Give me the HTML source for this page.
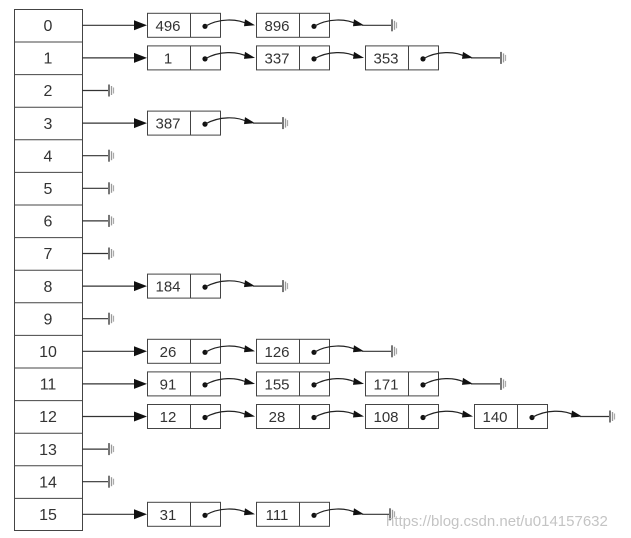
<!DOCTYPE html>
<html><head><meta charset="utf-8"><style>
html,body{margin:0;padding:0;background:#fff;}
svg{display:block;}
text{font-family:"Liberation Sans",Arial,sans-serif;fill:#333;}
</style></head><body>
<svg width="631" height="538" viewBox="0 0 631 538" xmlns="http://www.w3.org/2000/svg">
<defs>
<g id="node">
<rect x="0.5" y="-12" width="73" height="24" fill="#fff" stroke="#444" stroke-width="1"/>
<line x1="43.5" y1="-12" x2="43.5" y2="12" stroke="#444"/>
<circle cx="58" cy="1" r="2.6" fill="#111"/>
<path d="M58 1 C 72 -7, 90 -7, 101 -1" fill="none" stroke="#222" stroke-width="1.2"/>
<polygon points="98,-6 108,0 97,1" fill="#111"/>
</g>
<g id="gnd">
<line x1="0" y1="-6" x2="0" y2="6" stroke="#777" stroke-width="2"/>
<line x1="2.5" y1="-4.5" x2="2.5" y2="4.5" stroke="#999" stroke-width="1.3"/>
<line x1="4.5" y1="-3" x2="4.5" y2="3" stroke="#aaa" stroke-width="1.2"/>
</g>
<g id="ent">
<line x1="82" y1="0" x2="138" y2="0" stroke="#333" stroke-width="1.2"/>
<polygon points="134,-5 147,0 134,5" fill="#111"/>
</g>
<g id="empty">
<line x1="82" y1="0" x2="108" y2="0" stroke="#333" stroke-width="1.2"/>
<use href="#gnd" x="109"/>
</g>
</defs>

<g stroke="#444" stroke-width="1" fill="none">
<rect x="14.5" y="9.5" width="68" height="521"/>
</g>
<g stroke="#444" stroke-width="1">
<line x1="14" y1="42" x2="82" y2="42"/><line x1="14" y1="74.6" x2="82" y2="74.6"/>
<line x1="14" y1="107.2" x2="82" y2="107.2"/><line x1="14" y1="139.8" x2="82" y2="139.8"/>
<line x1="14" y1="172.4" x2="82" y2="172.4"/><line x1="14" y1="205" x2="82" y2="205"/>
<line x1="14" y1="237.6" x2="82" y2="237.6"/><line x1="14" y1="270.2" x2="82" y2="270.2"/>
<line x1="14" y1="302.8" x2="82" y2="302.8"/><line x1="14" y1="335.4" x2="82" y2="335.4"/>
<line x1="14" y1="368" x2="82" y2="368"/><line x1="14" y1="400.6" x2="82" y2="400.6"/>
<line x1="14" y1="433.2" x2="82" y2="433.2"/><line x1="14" y1="465.8" x2="82" y2="465.8"/>
<line x1="14" y1="498.4" x2="82" y2="498.4"/>
</g>
<g font-size="16" text-anchor="middle">
<text x="48" y="31">0</text><text x="48" y="63.6">1</text><text x="48" y="96.2">2</text>
<text x="48" y="128.8">3</text><text x="48" y="161.4">4</text><text x="48" y="194">5</text>
<text x="48" y="226.6">6</text><text x="48" y="259.2">7</text><text x="48" y="291.8">8</text>
<text x="48" y="324.4">9</text><text x="48" y="357">10</text><text x="48" y="389.6">11</text>
<text x="48" y="422.2">12</text><text x="48" y="454.8">13</text><text x="48" y="487.4">14</text>
<text x="48" y="520">15</text>
</g>

<g font-size="15" text-anchor="middle">
<g transform="translate(0,25.3)">
<use href="#ent"/><use href="#node" x="147"/><use href="#node" x="256"/>
<line x1="362" y1="0" x2="391" y2="0" stroke="#333" stroke-width="1.2"/><use href="#gnd" x="392"/>
<text x="168" y="5.5">496</text><text x="277" y="5.5">896</text>
</g>
<g transform="translate(0,57.9)">
<use href="#ent"/><use href="#node" x="147"/><use href="#node" x="256"/><use href="#node" x="365"/>
<line x1="471" y1="0" x2="500" y2="0" stroke="#333" stroke-width="1.2"/><use href="#gnd" x="501"/>
<text x="168" y="5.5">1</text><text x="277" y="5.5">337</text><text x="386" y="5.5">353</text>
</g>
<g transform="translate(0,90.5)"><use href="#empty"/></g>
<g transform="translate(0,123.1)">
<use href="#ent"/><use href="#node" x="147"/>
<line x1="253" y1="0" x2="282" y2="0" stroke="#333" stroke-width="1.2"/><use href="#gnd" x="283"/>
<text x="168" y="5.5">387</text>
</g>
<g transform="translate(0,155.7)"><use href="#empty"/></g>
<g transform="translate(0,188.3)"><use href="#empty"/></g>
<g transform="translate(0,220.9)"><use href="#empty"/></g>
<g transform="translate(0,253.5)"><use href="#empty"/></g>
<g transform="translate(0,286.1)">
<use href="#ent"/><use href="#node" x="147"/>
<line x1="253" y1="0" x2="282" y2="0" stroke="#333" stroke-width="1.2"/><use href="#gnd" x="283"/>
<text x="168" y="5.5">184</text>
</g>
<g transform="translate(0,318.7)"><use href="#empty"/></g>
<g transform="translate(0,351.3)">
<use href="#ent"/><use href="#node" x="147"/><use href="#node" x="256"/>
<line x1="362" y1="0" x2="391" y2="0" stroke="#333" stroke-width="1.2"/><use href="#gnd" x="392"/>
<text x="168" y="5.5">26</text><text x="277" y="5.5">126</text>
</g>
<g transform="translate(0,383.9)">
<use href="#ent"/><use href="#node" x="147"/><use href="#node" x="256"/><use href="#node" x="365"/>
<line x1="471" y1="0" x2="500" y2="0" stroke="#333" stroke-width="1.2"/><use href="#gnd" x="501"/>
<text x="168" y="5.5">91</text><text x="277" y="5.5">155</text><text x="386" y="5.5">171</text>
</g>
<g transform="translate(0,416.5)">
<use href="#ent"/><use href="#node" x="147"/><use href="#node" x="256"/><use href="#node" x="365"/><use href="#node" x="474"/>
<line x1="580" y1="0" x2="609" y2="0" stroke="#333" stroke-width="1.2"/><use href="#gnd" x="610"/>
<text x="168" y="5.5">12</text><text x="277" y="5.5">28</text><text x="386" y="5.5">108</text><text x="495" y="5.5">140</text>
</g>
<g transform="translate(0,449.1)"><use href="#empty"/></g>
<g transform="translate(0,481.7)"><use href="#empty"/></g>
<g transform="translate(0,514.3)">
<use href="#ent"/><use href="#node" x="147"/><use href="#node" x="256"/>
<line x1="362" y1="0" x2="389" y2="0" stroke="#333" stroke-width="1.2"/><use href="#gnd" x="390"/>
<text x="168" y="5.5">31</text><text x="277" y="5.5">111</text>
</g>
</g>
<text x="386" y="526" font-size="15" style="fill:#c4c4c4">https://blog.csdn.net/u014157632</text>
</svg>
</body></html>
